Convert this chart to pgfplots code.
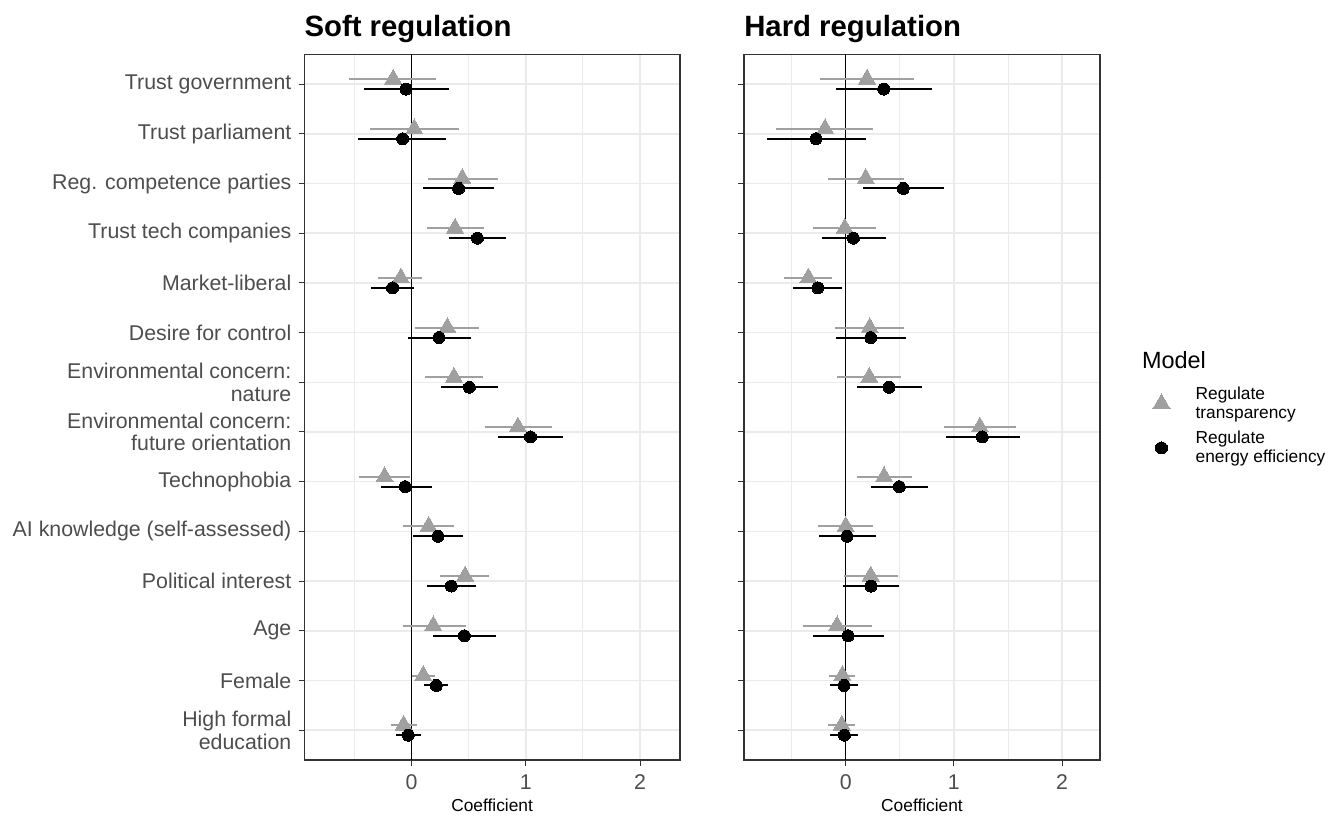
\documentclass[border=0pt]{standalone}
\usepackage{pgfplots}
\pgfplotsset{compat=1.18}
\usepackage{pgfplotstable}
\usepackage{fontspec}
\setmainfont{Liberation Sans}
\definecolor{g92}{RGB}{235,235,235}
\definecolor{g20}{RGB}{51,51,51}
\definecolor{g30}{RGB}{77,77,77}
\definecolor{tri}{RGB}{160,160,160}

% pos est lo hi  (pos 14 = Trust government ... 1 = High formal education)
\pgfplotstableread{
pos est lo hi
14 -0.161 -0.544 0.216
13 0.023 -0.363 0.415
12 0.444 0.140 0.757
11 0.380 0.132 0.635
10 -0.094 -0.292 0.094
9 0.313 0.032 0.588
8 0.371 0.117 0.626
7 0.930 0.643 1.225
6 -0.237 -0.465 -0.015
5 0.149 -0.073 0.368
4 0.468 0.246 0.681
3 0.190 -0.079 0.477
2 0.102 0.003 0.208
1 -0.070 -0.181 0.044
}\softT
\pgfplotstableread{
pos est lo hi
14 -0.050 -0.421 0.327
13 -0.079 -0.468 0.304
12 0.412 0.099 0.725
11 0.576 0.327 0.825
10 -0.167 -0.357 0.020
9 0.240 -0.035 0.518
8 0.506 0.254 0.760
7 1.041 0.754 1.327
6 -0.056 -0.272 0.175
5 0.231 0.012 0.453
4 0.348 0.137 0.567
3 0.462 0.190 0.740
2 0.216 0.111 0.319
1 -0.029 -0.137 0.082
}\softE
\pgfplotstableread{
pos est lo hi
14 0.197 -0.237 0.634
13 -0.191 -0.643 0.249
12 0.185 -0.160 0.542
11 -0.009 -0.298 0.277
10 -0.345 -0.566 -0.126
9 0.222 -0.098 0.542
8 0.218 -0.077 0.508
7 1.240 0.911 1.575
6 0.354 0.102 0.615
5 0.000 -0.252 0.255
4 0.231 -0.015 0.480
3 -0.080 -0.394 0.240
2 -0.031 -0.154 0.089
1 -0.037 -0.163 0.089
}\hardT
\pgfplotstableread{
pos est lo hi
14 0.351 -0.092 0.800
13 -0.274 -0.729 0.188
12 0.532 0.160 0.905
11 0.071 -0.222 0.369
10 -0.258 -0.483 -0.031
9 0.231 -0.092 0.560
8 0.400 0.102 0.705
7 1.262 0.926 1.606
6 0.495 0.237 0.763
5 0.012 -0.243 0.277
4 0.234 -0.022 0.489
3 0.022 -0.305 0.351
2 -0.015 -0.142 0.111
1 -0.012 -0.142 0.117
}\hardE

\pgfplotsset{
  coefax/.style={
    scale only axis,
    anchor=north west,
    height=529.3pt,
    xmin=-0.94, xmax=2.35,
    ymin=0.4, ymax=14.6,
    xtick={0,1,2},
    minor xtick={-0.5,0.5,1.5},
    ytick={1,...,14},
    grid=both,
    major grid style={g92, line width=1.1pt},
    minor grid style={g92, line width=0.8pt},
    minor tick length=0pt,
    tick align=outside,
    major tick length=4.2pt,
    tick pos=left,
    tick style={g20, line width=0.75pt},
    axis line style={g20, line width=0.8pt},
    /pgf/number format/assume math mode=true,
    ticklabel style={font=\fontsize{16}{17}\selectfont, text=g30, inner sep=0pt},
    xticklabel style={anchor=north, yshift=-6.5pt},
    yticklabel style={anchor=east, xshift=-5.3pt, align=right},
    xlabel={Coefficient},
    xlabel style={at={(axis description cs:0.5,0)}, anchor=base, yshift=-38.8pt, font=\fontsize{13}{15}\selectfont, inner sep=0pt},
    title style={at={(axis description cs:0,1)}, anchor=base west, yshift=7.7pt, font=\bfseries\fontsize{22}{26}\selectfont, inner sep=0pt},
  },
  tstyle/.style={only marks, mark=triangle*, mark size=7.4pt, mark options={fill=tri, draw=tri, line width=0pt},
    error bars/x dir=both, error bars/x explicit, error bars/error mark=none,
    error bars/error bar style={tri, line width=1.5pt}},
  estyle/.style={only marks, mark=*, mark size=4.5pt, mark options={fill=black, draw=black, line width=0pt},
    error bars/x dir=both, error bars/x explicit, error bars/error mark=none,
    error bars/error bar style={black, line width=1.5pt}},
}

\begin{document}
\begin{tikzpicture}
\useasboundingbox (0pt,0pt) rectangle (1004.25pt,-613.5pt);

\begin{axis}[coefax, at={(228.2pt,-40.7pt)}, width=281.8pt,
  title={Soft regulation},
  yticklabels={{High formal\\education}, Female, Age, Political interest, AI knowledge (self-assessed), Technophobia, {Environmental concern:\\future orientation}, {Environmental concern:\\nature}, Desire for control, Market-liberal, Trust tech companies, Reg. competence parties, Trust parliament, Trust government}]
\addplot[black, line width=0.9pt, forget plot] coordinates {(0,0.4) (0,14.6)};
\addplot[tstyle] table[x=est, y expr=\thisrow{pos}+0.1, x error plus expr=\thisrow{hi}-\thisrow{est}, x error minus expr=\thisrow{est}-\thisrow{lo}] {\softT};
\addplot[estyle] table[x=est, y expr=\thisrow{pos}-0.1, x error plus expr=\thisrow{hi}-\thisrow{est}, x error minus expr=\thisrow{est}-\thisrow{lo}] {\softE};
\end{axis}

\begin{axis}[coefax, at={(558pt,-40.7pt)}, width=267pt,
  title={Hard regulation},
  yticklabels={},
  legend style={draw=none, fill=none, at={(1,0.5286)}, anchor=north west, xshift=30.1pt,
    inner sep=0pt, outer sep=0pt, font=\fontsize{13}{14.2}\selectfont,
    cells={align=left}, nodes={inner sep=0pt}, row sep=8pt, column sep=0pt},
  legend cell align=left,
  legend image code/.code={\path[draw=none, fill=none] (0pt,0pt) -- (41.6pt,0pt); \draw[#1] plot coordinates {(16pt,0pt)};}]
\addplot[black, line width=0.9pt, forget plot] coordinates {(0,0.4) (0,14.6)};
\addplot[tstyle, forget plot] table[x=est, y expr=\thisrow{pos}+0.1, x error plus expr=\thisrow{hi}-\thisrow{est}, x error minus expr=\thisrow{est}-\thisrow{lo}] {\hardT};
\addplot[estyle, forget plot] table[x=est, y expr=\thisrow{pos}-0.1, x error plus expr=\thisrow{hi}-\thisrow{est}, x error minus expr=\thisrow{est}-\thisrow{lo}] {\hardE};
\addlegendimage{only marks, mark=triangle*, mark size=7.4pt, mark options={fill=tri, draw=tri, line width=0pt}}
\addlegendentry{Regulate\\transparency}
\addlegendimage{only marks, mark=*, mark size=4.5pt, mark options={fill=black, draw=black, line width=0pt}}
\addlegendentry{Regulate\\energy efficiency}
\end{axis}

\node[anchor=base west, inner sep=0pt, font=\fontsize{17.6}{20}\selectfont] at (856.3pt,-276pt) {Model};
\end{tikzpicture}
\end{document}
